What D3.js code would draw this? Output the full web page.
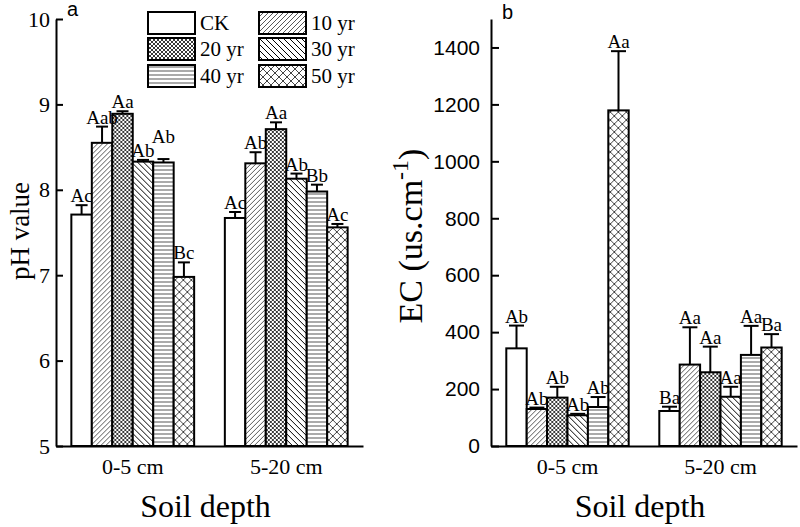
<!DOCTYPE html>
<meta charset="utf-8">
<style>
  body { margin: 0; background: #fff; }
  svg text { fill: #000; }
</style>
<body>
<script src="https://d3js.org/d3.v7.min.js"></script>
<script>
  var depths = ["0-5 cm", "5-20 cm"];
  var ages = ["CK", "10 yr", "20 yr", "30 yr", "40 yr", "50 yr"];

  // pH, per depth: CK .. 50 yr
  var phMean = [[7.71, 8.55, 8.89, 8.33, 8.32, 6.98], [7.67, 8.31, 8.71, 8.13, 7.98, 7.56]];
  var phErr = [[0.11, 0.19, 0.03, 0.02, 0.04, 0.17], [0.07, 0.13, 0.08, 0.06, 0.08, 0.04]];
  var phLetters = [["Ac", "Aab", "Aa", "Ab", "Ab", "Bc"], ["Ac", "Ab", "Aa", "Ab", "Bb", "Ac"]];
  var phTicks = [5, 6, 7, 8, 9, 10];

  // EC (us/cm)
  var ecMean = [[343, 130, 170, 108, 137, 1179], [123, 286, 259, 173, 320, 346]];
  var ecErr = [[80, 5, 38, 5, 35, 208], [15, 131, 90, 35, 102, 47]];
  var ecLetters = [["Ab", "Ab", "Ab", "Ab", "Ab", "Aa"], ["Ba", "Aa", "Aa", "Aa", "Aa", "Ba"]];
  var ecTicks = [0, 200, 400, 600, 800, 1000, 1200, 1400];

  var SERIF = '"Liberation Serif", "Times New Roman", serif';
  var SANS = '"Liberation Sans", Arial, sans-serif';

  var svg = d3.select("body").append("svg")
    .attr("width", 800)
    .attr("height", 527);

  var defs = svg.append("defs");

  function hatch(id, size, d, color, sw) {
    var p = defs.append("pattern")
      .attr("id", id)
      .attr("patternUnits", "userSpaceOnUse")
      .attr("width", size)
      .attr("height", size);
    p.append("rect").attr("width", size).attr("height", size).attr("fill", "#fff");
    p.append("path").attr("d", d).attr("stroke", color).attr("stroke-width", sw).attr("fill", "none");
  }

  hatch("p10", 5, "M0,5L5,0M-1,1L1,-1M4,6L6,4", "#444", 0.9);
  hatch("p20", 4, "M0,0L4,4M0,4L4,0", "#222", 0.9);
  hatch("p30", 6, "M0,0L6,6M-1,5L1,7M5,-1L7,1", "#000", 1);
  hatch("p40", 4, "M0,2L4,2", "#555", 1);
  hatch("p50", 8, "M0,0L8,8M0,8L8,0", "#444", 1);

  var fills = ["#fff", "url(#p10)", "url(#p20)", "url(#p30)", "url(#p40)", "url(#p50)"];

  var yBottom = 446, yTop = 19;

  function panel(cfg) {
    var x0 = d3.scaleBand().domain(depths).range(cfg.xr).paddingInner(0.2).paddingOuter(0.1);
    var x1 = d3.scaleBand().domain(ages).range([0, x0.bandwidth()]);
    var y = d3.scaleLinear().domain(cfg.domain).range([yBottom, yTop]);
    var g = svg.append("g");

    depths.forEach(function (dep, gi) {
      var rows = ages.map(function (a, i) {
        return { age: a, i: i, v: cfg.mean[gi][i], e: cfg.err[gi][i], lab: cfg.letters[gi][i] };
      });
      var gg = g.append("g").attr("transform", "translate(" + x0(dep) + ",0)");

      gg.selectAll("rect")
        .data(rows)
        .enter()
        .append("rect")
        .attr("x", function (d) { return x1(d.age); })
        .attr("y", function (d) { return y(d.v); })
        .attr("width", x1.bandwidth())
        .attr("height", function (d) { return y(cfg.domain[0]) - y(d.v); })
        .attr("fill", function (d) { return fills[d.i]; })
        .attr("stroke", "#000")
        .attr("stroke-width", 2);

      var eb = gg.selectAll(".eb")
        .data(rows)
        .enter()
        .append("g")
        .attr("class", "eb")
        .attr("stroke", "#000")
        .attr("stroke-width", 2);
      eb.append("line")
        .attr("x1", function (d) { return x1(d.age) + x1.bandwidth() / 2; })
        .attr("x2", function (d) { return x1(d.age) + x1.bandwidth() / 2; })
        .attr("y1", function (d) { return y(d.v); })
        .attr("y2", function (d) { return y(d.v + d.e); });
      eb.append("line")
        .attr("x1", function (d) { return x1(d.age) + x1.bandwidth() / 2 - cfg.cap / 2; })
        .attr("x2", function (d) { return x1(d.age) + x1.bandwidth() / 2 + cfg.cap / 2; })
        .attr("y1", function (d) { return y(d.v + d.e); })
        .attr("y2", function (d) { return y(d.v + d.e); });

      // letters; lift one when it would collide with its neighbour
      var prev = null;
      rows.forEach(function (d) {
        d.ly = y(d.v + d.e) - 3;
        if (prev !== null && Math.abs(d.ly - prev) < 6) d.ly = prev - 14;
        prev = d.ly;
      });
      gg.selectAll(".lab")
        .data(rows)
        .enter()
        .append("text")
        .attr("class", "lab")
        .attr("x", function (d) { return x1(d.age) + x1.bandwidth() / 2; })
        .attr("y", function (d) { return d.ly; })
        .attr("text-anchor", "middle")
        .style("font-family", SERIF)
        .style("font-size", "19px")
        .text(function (d) { return d.lab; });
    });

    var xa = svg.append("g")
      .attr("transform", "translate(0," + yBottom + ")")
      .call(d3.axisBottom(x0).tickSize(0).tickPadding(12))
      .attr("font-family", SERIF)
      .attr("font-size", 22);
    xa.selectAll("text").style("font-family", SERIF).style("font-size", "22px");

    var ya = svg.append("g")
      .attr("transform", "translate(" + cfg.xr[0] + ",0)")
      .call(d3.axisLeft(y).tickValues(cfg.ticks).tickFormat(d3.format("d"))
        .tickSizeInner(-cfg.tick).tickSizeOuter(0).tickPadding(cfg.pad))
      .attr("font-family", cfg.tickFont)
      .attr("font-size", cfg.tickSize);
    ya.selectAll("text").style("font-family", cfg.tickFont).style("font-size", cfg.tickSize + "px");
    ya.selectAll("line").attr("stroke-width", 2);

    svg.selectAll(".domain").attr("stroke-width", 2);

    svg.append("text")
      .attr("x", cfg.xr[0] + cfg.tagDx)
      .attr("y", cfg.tagY)
      .style("font-family", SANS)
      .style("font-size", "20px")
      .text(cfg.tag);

    svg.append("text")
      .attr("x", (cfg.xr[0] + cfg.xr[1]) / 2 - 4)
      .attr("y", 517)
      .attr("text-anchor", "middle")
      .style("font-family", SERIF)
      .style("font-size", "32px")
      .text("Soil depth");
  }

  panel({
    xr: [56, 363], domain: [5, 10], mean: phMean, err: phErr, letters: phLetters,
    ticks: phTicks, tick: 7, pad: 6, tickFont: SERIF, tickSize: 22, cap: 12,
    tag: "a", tagDx: 11, tagY: 16
  });

  panel({
    xr: [491, 797], domain: [0, 1500], mean: ecMean, err: ecErr, letters: ecLetters,
    ticks: ecTicks, tick: 8, pad: 11, tickFont: SANS, tickSize: 21, cap: 15,
    tag: "b", tagDx: 11, tagY: 19
  });

  // y titles
  svg.append("text")
    .attr("transform", "translate(29,231) rotate(-90)")
    .attr("text-anchor", "middle")
    .style("font-family", SERIF)
    .style("font-size", "27px")
    .text("pH value");

  var ec = svg.append("text")
    .attr("transform", "translate(422,236) rotate(-90)")
    .attr("text-anchor", "middle")
    .style("font-family", SERIF)
    .style("font-size", "34px");
  ec.append("tspan").text("EC (us.cm");
  ec.append("tspan").attr("dy", "-0.6em").style("font-size", "24px").text("-1");
  ec.append("tspan").attr("dy", "0.42em").text(")");

  // legend
  var legCols = [148, 259], legRows = [12, 38, 65];
  var leg = svg.append("g").selectAll("g")
    .data(ages)
    .enter()
    .append("g")
    .attr("transform", function (d, i) {
      return "translate(" + legCols[i % 2] + "," + legRows[Math.floor(i / 2)] + ")";
    });
  leg.append("rect")
    .attr("width", 47)
    .attr("height", 22)
    .attr("fill", function (d, i) { return fills[i]; })
    .attr("stroke", "#000")
    .attr("stroke-width", 2);
  leg.append("text")
    .attr("x", 52)
    .attr("y", 18)
    .style("font-family", SERIF)
    .style("font-size", "21px")
    .text(function (d) { return d; });
</script>
</body>
